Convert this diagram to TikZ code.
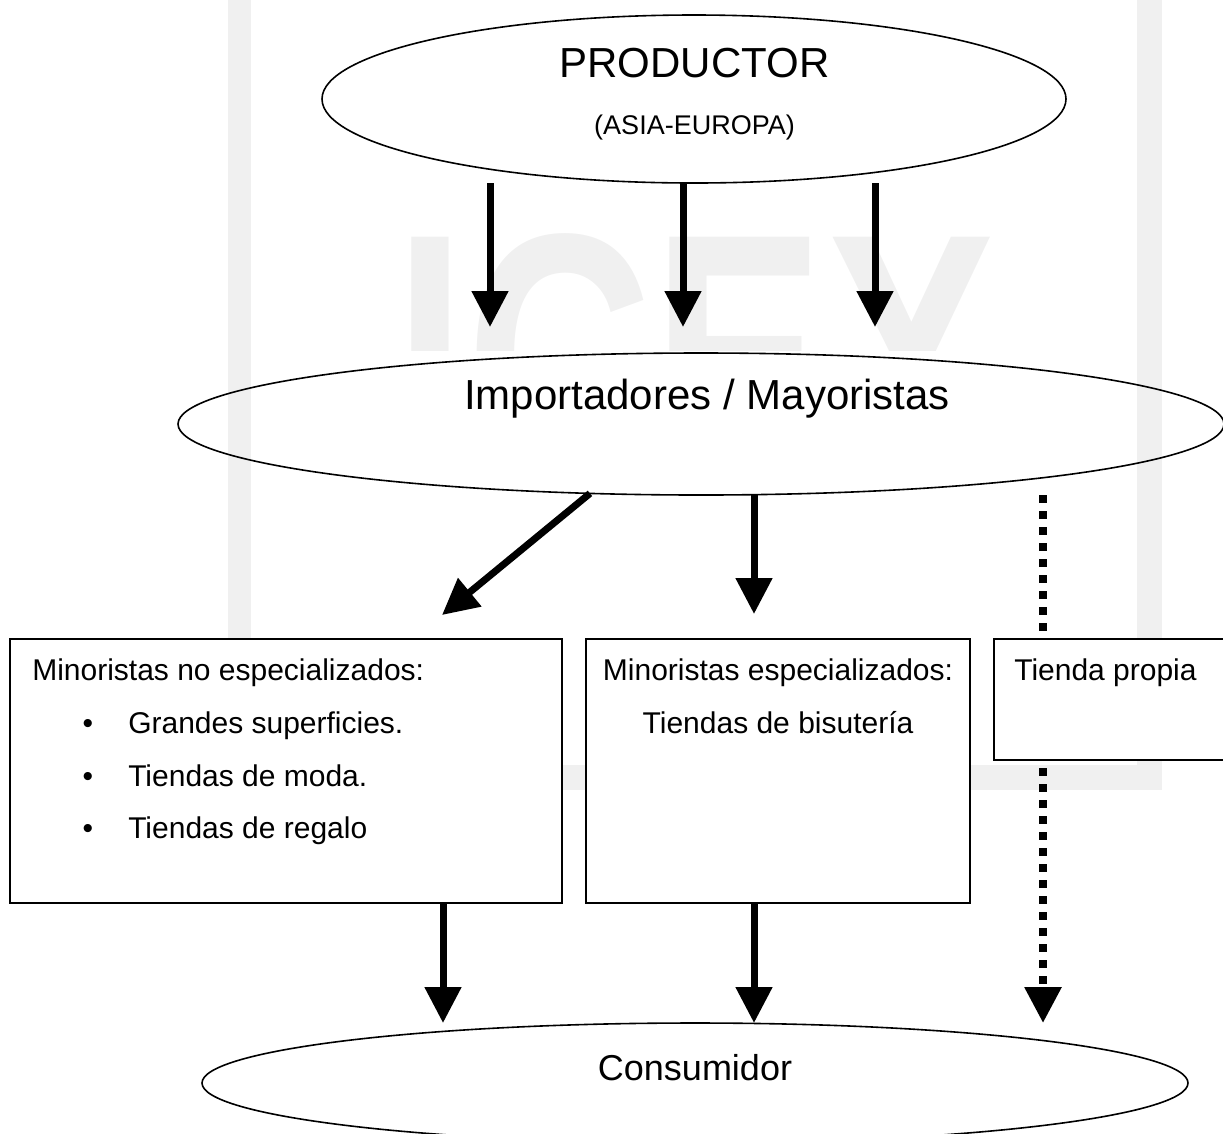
\documentclass[tikz,border=0pt]{standalone}
\usepackage{fontspec}
\setmainfont{Liberation Sans}
\usetikzlibrary{arrows.meta,shapes.geometric}
\definecolor{wm}{RGB}{240,240,240}
\begin{document}
\begin{tikzpicture}[x=0.75pt,y=-0.75pt,
  ell/.style={draw, ellipse, line width=1.2pt, inner sep=0pt, outer sep=0pt},
  boxnode/.style={draw, rectangle, fill=white, line width=1.1pt, inner sep=0pt, outer sep=0pt},
  tip/.style={-{Triangle[length=27pt,width=26.5pt]}},
  arr/.style={line width=5.25pt, tip},
  dotl/.style={line width=6pt, dash pattern=on 6pt off 6pt},
  txt/.style={inner sep=0pt, anchor=base},
  bigtxt/.style={txt, font=\fontsize{31.5}{36}\selectfont},
  boxtxt/.style={txt, font=\fontsize{22.5}{26}\selectfont},
]
\useasboundingbox (0,0) rectangle (1223,1133);
% watermark
\fill[wm] (228,0) rectangle (251,790);
\fill[wm] (1137,0) rectangle (1162,790);
\fill[wm] (228,765) rectangle (1162,790);
\begin{scope}
\clip (0,0) rectangle (1223,350);
\node[font=\bfseries\fontsize{262}{262}\selectfont, text=wm, anchor=base west, inner sep=0pt, xscale=0.74] (wmtext) at (394,477) {ICEX};
\end{scope}

% ellipses
\node[ell, minimum width=558pt, minimum height=126pt] (prod) at (694,99) {};
\node[bigtxt] (prodt) at (694.5,77) {PRODUCTOR};
\node[txt, font=\fontsize{20.25}{24}\selectfont] (prods) at (694.5,134) {(ASIA-EUROPA)};

\node[ell, minimum width=784.5pt, minimum height=106.5pt] (imp) at (701,424) {};
\node[bigtxt] (impt) at (707,409) {Importadores / Mayoristas};

\node[ell, minimum width=739.5pt, minimum height=90pt] (cons) at (695,1083) {};
\node[txt, font=\fontsize{27}{30}\selectfont] (const) at (695,1080) {Consumidor};

% boxes
\node[boxnode, minimum width=414pt, minimum height=198pt] (b1) at (286,771) {};
\node[boxnode, minimum width=288pt, minimum height=198pt] (b2) at (778,771) {};
\node[boxnode, minimum width=184.5pt, minimum height=90.75pt] (b3) at (1117,699.5) {};

\node[boxtxt, anchor=base west] (b1t) at (32,680) {Minoristas no especializados:};
\node[boxtxt] (bu1) at (88,733) {•};
\node[boxtxt] (bu2) at (88,786) {•};
\node[boxtxt] (bu3) at (88,838) {•};
\node[boxtxt, anchor=base west] (i1) at (128,733) {Grandes superficies.};
\node[boxtxt, anchor=base west] (i2) at (128,786) {Tiendas de moda.};
\node[boxtxt, anchor=base west] (i3) at (128,838) {Tiendas de regalo};

\node[boxtxt] (b2t) at (778,680) {Minoristas especializados:};
\node[boxtxt] (b2s) at (778,733) {Tiendas de bisutería};

\node[boxtxt, anchor=base west] (b3t) at (1014,680) {Tienda propia};

% arrow end points
\coordinate (t1) at (490,327);
\coordinate (t2) at (683,327);
\coordinate (t3) at (875,327);
\coordinate (d1) at (442,615);
\coordinate (m2) at (754,614);
\coordinate (c1) at (443,1023);
\coordinate (c2) at (754,1023);
\coordinate (c3) at (1043,1023);

% connectors
\draw[arr] (prod.south -| t1) -- (t1);
\draw[arr] (prod.south -| t2) -- (t2);
\draw[arr] (prod.south -| t3) -- (t3);

\draw[arr] (imp.212) -- (d1);
\draw[arr] (imp.south -| m2) -- (m2);
\draw[dotl] (imp.south -| c3) -- (b3.north -| c3);

\draw[arr] (b1.south -| c1) -- (c1);
\draw[arr] (b2.south -| c2) -- (c2);
\draw[dotl, dash phase=6pt, tip] (b3.south -| c3) -- (c3);
\end{tikzpicture}
\end{document}
